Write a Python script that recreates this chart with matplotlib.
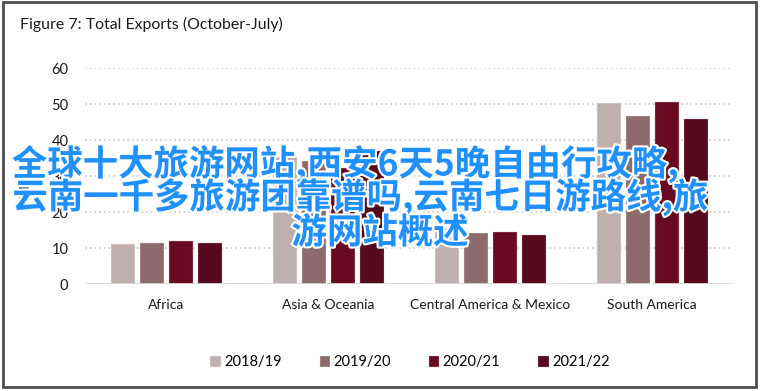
import matplotlib
matplotlib.use("Agg")
import matplotlib.pyplot as plt
import matplotlib.patheffects as pe
from matplotlib.patches import Rectangle
import numpy as np

# ---- data ----
categories = ["Africa", "Asia & Oceania", "Central America & Mexico", "South America"]
series_names = ["2018/19", "2019/20", "2020/21", "2021/22"]
v_2018_19 = [11.0, 35.4, 15.5, 50.2]
v_2019_20 = [11.4, 34.2, 14.3, 46.7]
v_2020_21 = [11.9, 32.3, 14.4, 50.5]
v_2021_22 = [11.3, 36.9, 13.5, 45.7]
series_values = [v_2018_19, v_2019_20, v_2020_21, v_2021_22]
yticks = [0, 10, 20, 30, 40, 50, 60]
title_text = "Figure 7: Total Exports (October-July)"
ylabel_text = "Million"
overlay_lines = ["全球十大旅游网站,西安6天5晚自由行攻略,",
                 "云南一千多旅游团靠谱吗,云南七日游路线,旅",
                 "游网站概述"]

colors = ["#BFAFAF", "#8E6A6C", "#690A22", "#540A1C"]
edges = ["#CDBFBF", "#A08082", "#7E2A3E", "#6A2234"]

W, H = 760, 391
fig = plt.figure(figsize=(W / 100, H / 100), dpi=100)
fig.patch.set_facecolor("white")

# axes placement (pixel coords)
x0, x1, ytop, ybot = 85, 733, 68, 284
ax = fig.add_axes([x0 / W, 1 - ybot / H, (x1 - x0) / W, (ybot - ytop) / H])

font = "Lato"
x = np.arange(len(categories))
slot = 0.181
bw = 0.142
for i, (name, vals) in enumerate(zip(series_names, series_values)):
    ax.bar(x + (i - 1.5) * slot, vals, width=bw, color=colors[i],
           edgecolor=edges[i], linewidth=0.8, label=name, zorder=3)

ax.set_xlim(-0.5, len(categories) - 0.5)
ax.set_ylim(0, 60)
ax.set_yticks(yticks)
ax.set_yticklabels([str(t) for t in yticks], fontsize=10.5, family=font, color="#1a1a1a")
ax.set_xticks(x)
ax.set_xticklabels(categories, fontsize=10, family=font, color="#1a1a1a")
ax.tick_params(axis="both", length=0)
ax.tick_params(axis="y", pad=12)
ax.tick_params(axis="x", pad=11)
for s in ax.spines.values():
    s.set_visible(False)
for t in yticks[1:]:
    ax.axhline(t, color="#D0D0D0", lw=1.3, ls=(0, (1, 1.6)), zorder=1)
ax.axhline(0, color="#D9D9D9", lw=1.3, zorder=4)

fig.text(25 / W, 1 - 176 / H, ylabel_text, rotation=90, ha="center", va="center",
         fontsize=10, family=font, color="#1a1a1a")

fig.text(20 / W, 1 - 24 / H, title_text, ha="left", va="center",
         fontsize=11.4, family=font, color="#1a1a1a")

handles, labels = ax.get_legend_handles_labels()
leg = fig.legend(handles, labels, loc="center", bbox_to_anchor=(410 / W, 1 - 362 / H),
                 ncol=4, frameon=False, prop={"family": font, "size": 10.5},
                 handlelength=0.65, handleheight=0.65, handletextpad=0.3,
                 columnspacing=2.6, borderpad=0)

# figure border
fig.patches.append(Rectangle((3 / W, 1 - 387 / H), (756 - 3) / W, (387 - 2) / H,
                             transform=fig.transFigure, fill=False,
                             edgecolor="#4d4d4d", lw=2, zorder=10))

# overlay text
centers = [(345, 164), (360, 197), (380, 233)]
for line, (cx, cy) in zip(overlay_lines, centers):
    fig.text(cx / W, 1 - cy / H, line, ha="center", va="center",
             fontsize=25.5, family=["Noto Sans CJK SC", "DejaVu Sans"],
             color="#1E90FF", weight="bold", zorder=20,
             path_effects=[pe.withStroke(linewidth=3, foreground="white")])

fig.savefig("out.png", dpi=100, facecolor="white")
